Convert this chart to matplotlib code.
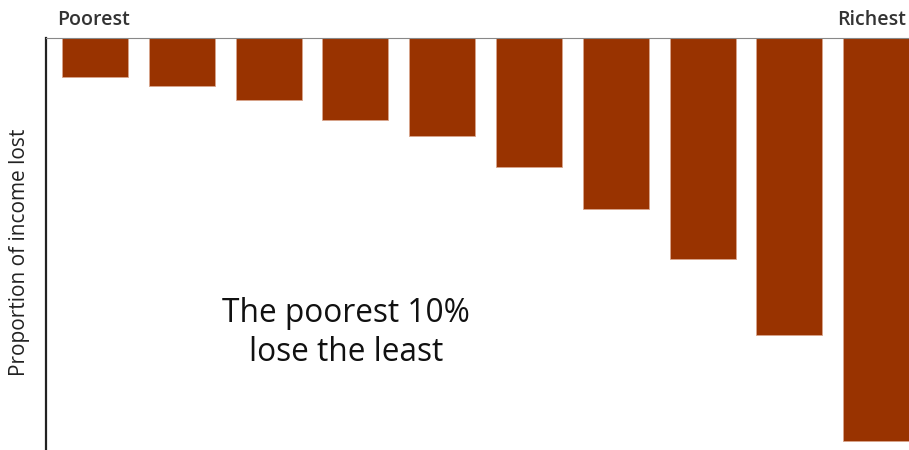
import matplotlib
matplotlib.use("Agg")
import matplotlib.pyplot as plt

groups = ["1", "2", "3", "4", "5", "6", "7", "8", "9", "10"]
loss = [39, 48, 62, 82, 98, 129, 171, 221, 297, 403]
end_labels = ["Poorest", "Richest"]
note = "The poorest 10%\nlose the least"
ylabel = "Proportion of income lost"

plt.rcParams["font.family"] = ["Open Sans", "DejaVu Sans"]

fig = plt.figure(figsize=(9.09, 4.5), dpi=100)
ax = fig.add_axes([46/909, 0, (909-46)/909, (450-38)/450])

x = list(range(len(groups)))
ax.bar(x, loss, width=0.76, color="#993300", edgecolor="#d9a58c", linewidth=0.6)
ax.set_xlim(-0.565, -0.565 + 863/86.8)
ax.set_ylim(412, 0)

for s in ["right", "bottom"]:
    ax.spines[s].set_visible(False)
ax.spines["left"].set_color("#222222")
ax.spines["left"].set_linewidth(1.6)
ax.spines["top"].set_color("#888888")
ax.spines["top"].set_linewidth(0.8)
ax.spines["top"].set_linestyle((0, (1, 1)))
ax.set_xticks([])
ax.set_yticks([])

fig.text(20/909, 1 - 252/450, ylabel, fontsize=15, rotation=90,
         ha="center", va="center", color="#222222")

fig.text(57/909, 1 - 20/450, end_labels[0], fontsize=14, fontweight="semibold",
         color="#333333", ha="left", va="center")
fig.text(906/909, 1 - 20/450, end_labels[1], fontsize=14, fontweight="semibold",
         color="#333333", ha="right", va="center")

fig.text(346/909, 1 - 333/450, note, fontsize=22.8, ha="center", va="center",
         color="#111111", linespacing=1.25)

fig.savefig("out.png", dpi=100)
